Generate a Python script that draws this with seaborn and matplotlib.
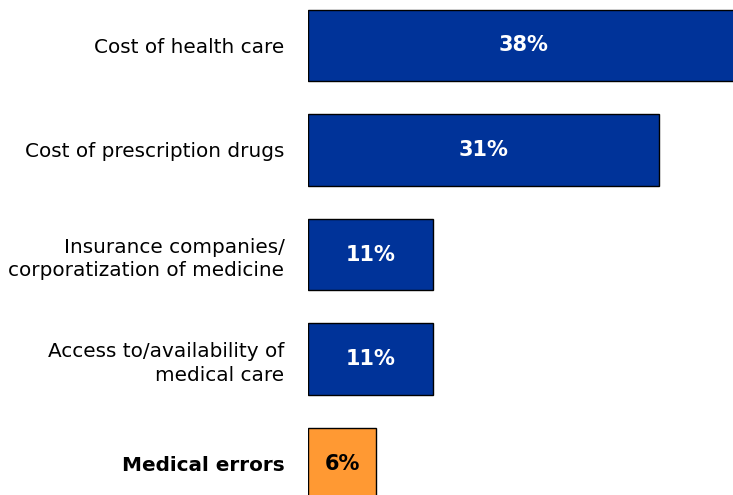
import matplotlib
matplotlib.use("Agg")
import matplotlib.pyplot as plt
import seaborn as sns
import pandas as pd

categories = [
    "Cost of health care",
    "Cost of prescription drugs",
    "Insurance companies/\ncorporatization of medicine",
    "Access to/availability of\nmedical care",
    "Medical errors",
]
values = [38, 31, 11, 11, 6]
bar_colors = ["#003399", "#003399", "#003399", "#003399", "#FF9933"]
value_text_colors = ["white", "white", "white", "white", "black"]

sns.set_style("white")
plt.rcParams["font.family"] = ["DejaVu Sans"]

df = pd.DataFrame({"category": categories, "value": values})

fig = plt.figure(figsize=(7.33, 4.95), dpi=100)
ax = fig.add_axes([308 / 733, 0, 1 - 308 / 733, 1])

sns.barplot(
    data=df, x="value", y="category", hue="category",
    palette=dict(zip(categories, bar_colors)), legend=False, saturation=1,
    width=0.68, edgecolor="black", linewidth=1.0, ax=ax,
)

ax.set_xlim(0, (733 - 308) / 11.32)
ax.set_ylim(4.301, -0.435)

for i, v in enumerate(values):
    ax.text(v / 2, i, f"{v}%", ha="center", va="center",
            fontsize=15, fontweight="bold", color=value_text_colors[i])

ax.set_xlabel("")
ax.set_ylabel("")
ax.set_xticks([])
ax.tick_params(axis="y", length=0, pad=17, labelsize=14.4, labelcolor="black")
for lbl in ax.get_yticklabels():
    lbl.set_linespacing(1.3)
    if lbl.get_text() == "Medical errors":
        lbl.set_fontweight("bold")
for s in ax.spines.values():
    s.set_visible(False)

fig.savefig("out.png", dpi=100)
